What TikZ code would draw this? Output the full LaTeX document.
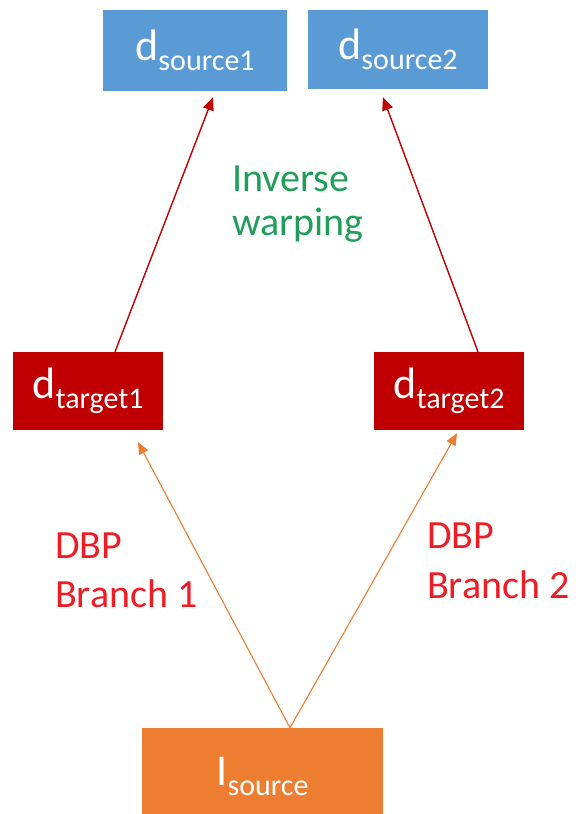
\documentclass[tikz,border=0pt]{standalone}
\usepackage{fontspec}
\setmainfont{Carlito}
\usetikzlibrary{arrows.meta,calc}
\definecolor{boxblue}{HTML}{5B9BD5}
\definecolor{boxred}{HTML}{C00000}
\definecolor{boxorange}{HTML}{ED7D31}
\definecolor{labgreen}{HTML}{1F9E5A}
\definecolor{labred}{HTML}{EE1C25}
\newcommand{\dlabel}[2]{{\fontsize{44}{44}\selectfont #1}{\fontsize{30}{30}\selectfont\raisebox{-10pt}{#2}}}
\tikzset{
  box/.style={rectangle, inner sep=0pt, text=white},
  bluebox/.style={box, fill=boxblue},
  redbox/.style={box, fill=boxred},
  orangebox/.style={box, fill=boxorange},
  warparrow/.style={draw=boxred, line width=1.4pt, -{Triangle[length=13pt,width=11pt]}},
  brancharrow/.style={draw=boxorange, line width=1.1pt, -{Triangle[length=12pt,width=10pt]}},
  greenlab/.style={text=labgreen, font=\fontsize{40}{40}\selectfont, inner sep=0pt, anchor=base west},
  redlab/.style={text=labred, font=\fontsize{40}{40}\selectfont, inner sep=0pt, anchor=base west}
}
\begin{document}
\begin{tikzpicture}[x=1pt,y=-1pt]
\path[use as bounding box] (0,0) rectangle (579,814);
\clip (0,0) rectangle (579,814);
% boxes
\node[bluebox, minimum width=184pt, minimum height=81pt] (s1) at (195,50.5) {\dlabel{d}{source1}};
\node[bluebox, minimum width=180pt, minimum height=79pt] (s2) at (398,49.5) {\dlabel{d}{source2}};
\node[redbox, minimum width=150pt, minimum height=78pt] (t1) at (88,391) {\dlabel{d}{target1}};
\node[redbox, minimum width=150pt, minimum height=78pt] (t2) at (449,391) {\dlabel{d}{target2}};
\node[orangebox, minimum width=241pt, minimum height=96pt] (is) at (262.5,776) {\dlabel{I}{source}};
% arrows
\draw[warparrow] ([xshift=27pt]t1.north) -- ([xshift=18pt,yshift=-6pt]s1.south);
\draw[warparrow] ([xshift=29pt]t2.north) -- ([xshift=-15pt,yshift=-8pt]s2.south);
\draw[brancharrow] ([xshift=27.5pt]is.north) -- ([xshift=50pt,yshift=-12pt]t1.south);
\draw[brancharrow] ([xshift=27.5pt]is.north) -- ([xshift=8pt,yshift=-3pt]t2.south);
% labels
\node[greenlab] (inv1) at (232,191) {Inverse};
\node[greenlab] (inv2) at (232,235) {warping};
\node[redlab] (b1a) at (55,558) {DBP};
\node[redlab] (b1b) at (55,607) {Branch 1};
\node[redlab] (b2a) at (427,548) {DBP};
\node[redlab] (b2b) at (427,598) {Branch 2};
\end{tikzpicture}
\end{document}
